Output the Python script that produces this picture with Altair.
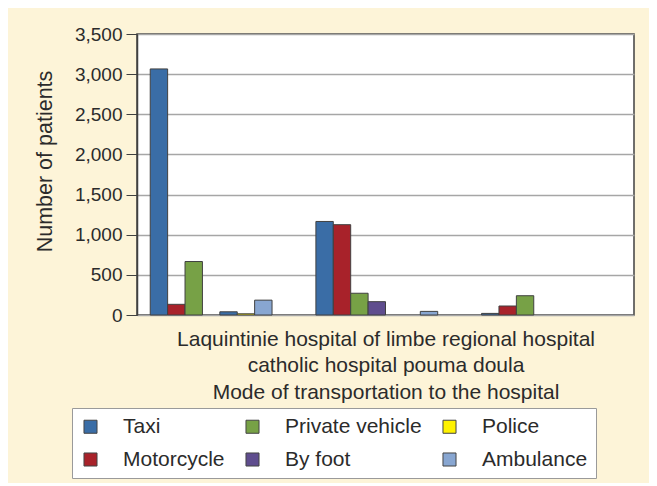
import altair as alt
import pandas as pd

# categories (hospitals) and bar slots within each hospital cluster
hospitals = ["Laquintinie hospital of doula", "limbe regional hospital", "catholic hospital pouma"]
slots = ["s1", "s2", "s3", "s4", "s5", "s6", "s7", "s8"]
slot_mode = ["Taxi", "Motorcycle", "Private vehicle", "By foot", "Taxi", "Police", "Ambulance", "Ambulance"]

# series values per slot (one value per hospital)
s1_taxi = [3065, 1165, 20]
s2_motorcycle = [133, 1125, 112]
s3_private = [666, 271, 240]
s4_byfoot = [0, 166, 0]
s5_taxi_b = [40, 0, 0]
s6_police = [15, 0, 0]
s7_ambulance = [185, 45, 0]
s8_empty = [0, 0, 0]
series = [s1_taxi, s2_motorcycle, s3_private, s4_byfoot, s5_taxi_b, s6_police, s7_ambulance, s8_empty]

legend_order = ["Taxi", "Motorcycle", "Private vehicle", "By foot", "Police", "Ambulance"]
legend_colors = ["#3A6DA6", "#A8222A", "#77A146", "#5F4D8E", "#FFF200", "#88A6D1"]
y_ticks = [0, 500, 1000, 1500, 2000, 2500, 3000, 3500]

rows = []
for slot, mode, vals in zip(slots, slot_mode, series):
    for h, v in zip(hospitals, vals):
        if v > 0:
            rows.append({"hospital": h, "slot": slot, "mode": mode, "patients": v})
df = pd.DataFrame(rows)

FONT = "Liberation Sans"
TXT = "#2b2b2b"

chart = alt.Chart(df).mark_bar(stroke="#404040", strokeWidth=1).encode(
    x=alt.X("hospital:N", sort=hospitals,
            scale=alt.Scale(domain=hospitals, paddingInner=0, paddingOuter=0),
            axis=alt.Axis(labels=False, ticks=False, domain=False,
                          title=["Laquintinie hospital of limbe regional hospital",
                                 "catholic hospital pouma doula",
                                 "Mode of transportation to the hospital"],
                          titleFont=FONT, titleFontSize=21, titleFontWeight="normal",
                          titleColor=TXT, titleLineHeight=26.5, titlePadding=13)),
    xOffset=alt.XOffset("slot:N", scale=alt.Scale(domain=slots, paddingInner=0, paddingOuter=0.76)),
    y=alt.Y("patients:Q",
            scale=alt.Scale(domain=[0, 3500], nice=False),
            axis=alt.Axis(values=y_ticks, format=",d", labelFont=FONT, labelFontSize=19,
                          labelColor=TXT, tickSize=11, labelPadding=4,
                          domainColor="#404040", tickColor="#404040", domainWidth=1.5,
                          gridColor="#A6A6A6", gridWidth=1.5,
                          title="Number of patients", titleFont=FONT, titleFontSize=21.5,
                          titleFontWeight="normal", titleColor=TXT, titlePadding=18,
                          titleY=127)),
    color=alt.Color("mode:N",
                    scale=alt.Scale(domain=legend_order, range=legend_colors),
                    legend=alt.Legend(orient="none", legendX=-65, legendY=374, columns=3,
                                      title=None, symbolType="square", symbolSize=170,
                                      symbolStrokeColor="#444444", symbolStrokeWidth=1,
                                      labelFont=FONT, labelFontSize=21, labelColor=TXT,
                                      labelOffset=22, columnPadding=17, rowPadding=11,
                                      padding=8, fillColor="white", strokeColor="#9A9A9A")),
).properties(
    width=497,
    height=281,
    background="#FDF4D8",
    padding={"left": 129, "top": 26, "right": 15, "bottom": 168},
    autosize=alt.AutoSizeParams(type="none"),
).configure_view(
    stroke="#404040", strokeWidth=1.5, fill="white"
)

chart.save("out.html", embed_options={"renderer": "svg", "actions": False})
